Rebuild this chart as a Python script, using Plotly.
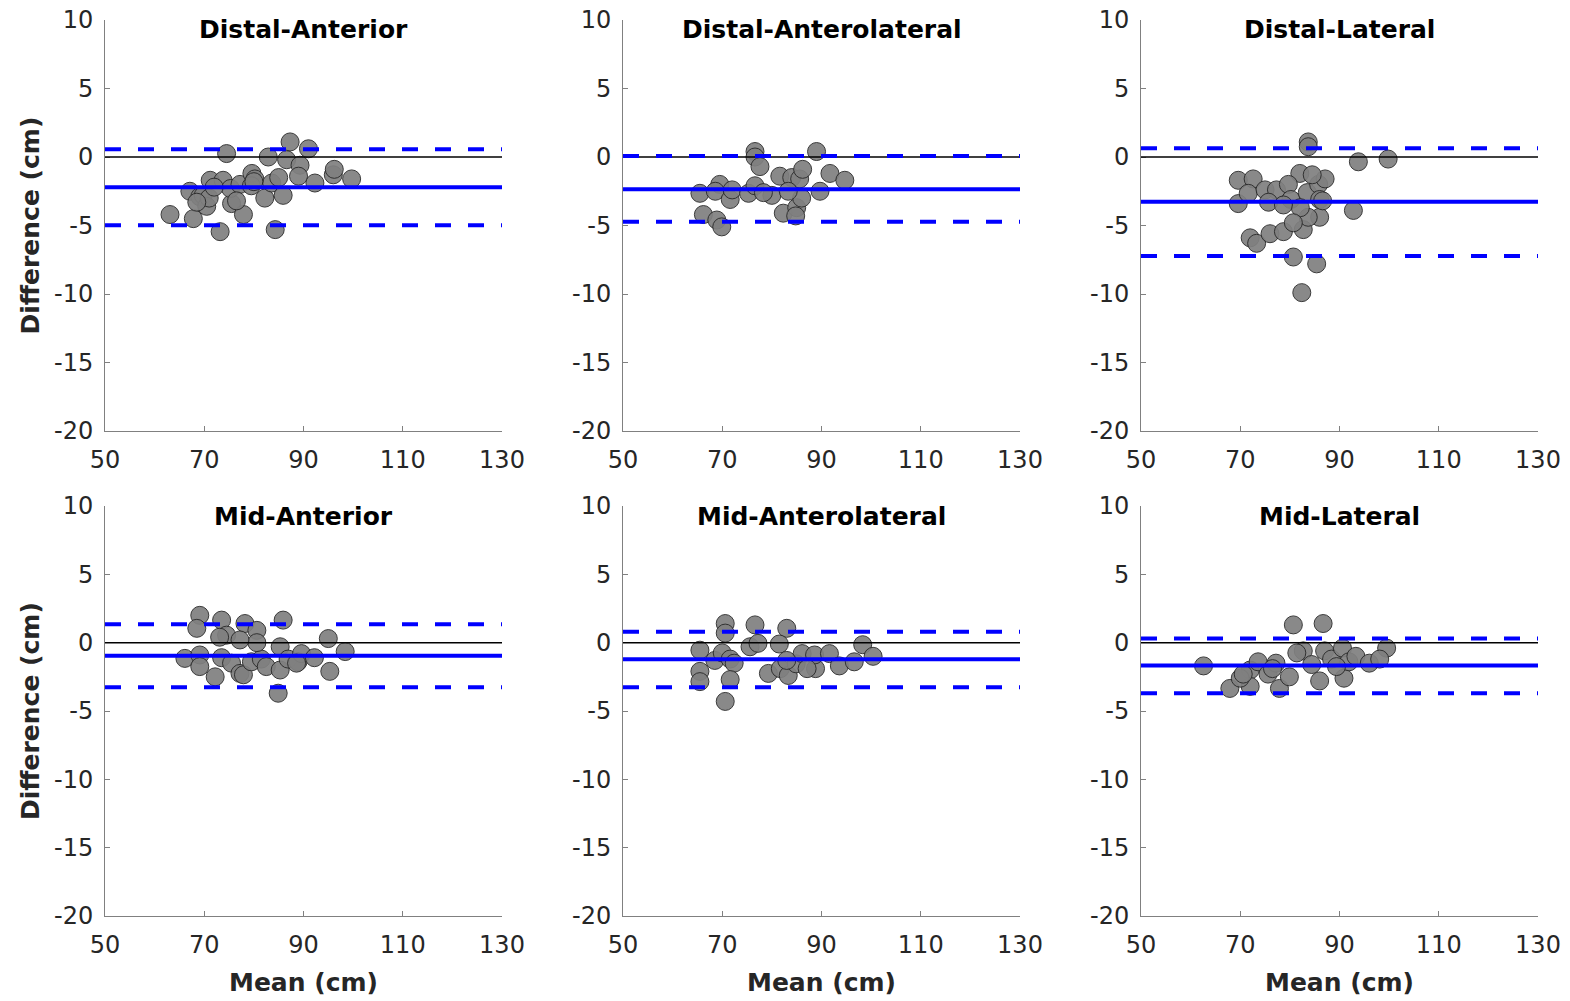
import plotly.graph_objects as go

W, H = 1570, 1001

titles = ["Distal-Anterior", "Distal-Anterolateral", "Distal-Lateral",
          "Mid-Anterior", "Mid-Anterolateral", "Mid-Lateral"]

x_da = [63.1, 67.8, 67.1, 69.1, 69.8, 71.2, 70.5, 71.0, 73.8, 73.2, 74.5, 75.5, 75.3, 77.2, 77.9, 79.6, 80.2, 79.5,
        82.2, 83.6, 82.9, 84.3, 85.9, 87.3, 86.6, 89.3, 89.0, 91.0, 92.3, 96.0, 96.2, 99.7, 85.0, 68.5, 72.0, 76.5, 80.0]
y_da = [-4.2, -4.5, -2.5, -2.9, -2.8, -1.7, -3.6, -3.0, -1.7, -5.45, 0.25, -3.4, -2.3, -2.0, -4.2, -1.2, -1.6, -2.1,
        -3.0, -1.9, 0.0, -5.3, -2.8, 1.1, -0.2, -0.6, -1.4, 0.6, -1.9, -1.3, -0.9, -1.6, -1.5, -3.3, -2.2, -3.2, -1.8]

x_dal = [65.5, 66.2, 68.9, 69.9, 69.5, 68.6, 71.6, 72.0, 75.3, 76.6, 76.6, 77.6, 76.6, 80.0, 81.6, 82.3, 85.0, 84.8,
         84.0, 85.6, 86.2, 89.0, 89.7, 91.7, 94.7, 86.0, 78.3, 83.3]
y_dal = [-2.65, -4.2, -4.6, -5.1, -2.0, -2.5, -3.1, -2.4, -2.65, 0.4, 0.0, -0.7, -2.1, -2.8, -1.4, -4.1, -3.7, -4.3,
         -1.5, -1.6, -0.9, 0.4, -2.5, -1.2, -1.7, -3.0, -2.6, -2.5]

x_dl = [69.6, 72.6, 69.6, 71.6, 75.0, 72.0, 73.3, 76.0, 78.7, 82.7, 80.7, 85.4, 82.4, 83.7, 83.7, 93.8, 99.8, 92.8,
        82.0, 77.3, 79.7, 80.2, 83.5, 85.8, 87.1, 86.0, 86.0, 83.7, 82.1, 80.7, 75.7, 78.7, 84.5, 86.6]
y_dl = [-1.7, -1.6, -3.4, -2.65, -2.4, -5.9, -6.3, -5.6, -5.45, -5.3, -7.3, -7.8, -9.9, 1.1, 0.75, -0.35, -0.15, -3.9,
        -1.2, -2.4, -2.0, -3.1, -2.6, -2.0, -1.6, -3.1, -4.4, -4.4, -3.7, -4.8, -3.3, -3.5, -1.3, -3.2]

x_ma = [69.1, 68.5, 73.5, 78.2, 80.6, 85.9, 74.5, 66.1, 69.1, 69.1, 72.2, 73.5, 75.5, 77.2, 77.9, 79.5, 81.5, 82.5,
        85.3, 85.3, 84.9, 86.9, 88.9, 89.6, 92.2, 95.3, 95.0, 98.4, 80.6, 77.2, 73.1, 88.6]
y_ma = [2.0, 1.05, 1.65, 1.4, 0.9, 1.65, 0.55, -1.15, -0.9, -1.75, -2.5, -1.1, -1.5, -2.25, -2.35, -1.4, -1.2, -1.75,
        -0.3, -2.0, -3.7, -1.2, -1.4, -0.8, -1.1, -2.1, 0.3, -0.65, 0.0, 0.2, 0.4, -1.5]

x_mal = [70.6, 70.6, 76.6, 83.0, 65.5, 65.5, 65.5, 68.5, 70.0, 71.6, 72.4, 71.6, 70.6, 75.6, 77.2, 79.3, 81.5, 81.7,
         83.3, 84.9, 86.1, 88.8, 88.6, 91.6, 93.6, 96.6, 98.3, 100.4, 83.0, 87.1]
y_mal = [1.4, 0.7, 1.3, 1.05, -0.55, -2.1, -2.85, -1.3, -0.75, -1.2, -1.5, -2.7, -4.3, -0.3, -0.05, -2.25, -0.1, -1.9,
         -2.4, -1.55, -0.8, -1.9, -0.9, -0.8, -1.7, -1.4, -0.15, -1.0, -1.3, -1.9]

x_ml = [62.6, 67.9, 72.0, 72.0, 73.6, 75.6, 77.2, 77.9, 79.9, 80.7, 86.7, 82.7, 84.4, 86.0, 87.0, 88.4, 90.9, 90.6,
        91.9, 93.3, 96.0, 99.5, 70.0, 70.6, 81.4, 89.4, 98.1, 76.5]
y_ml = [-1.7, -3.35, -2.0, -3.2, -1.4, -2.3, -1.5, -3.35, -2.5, 1.3, 1.4, -0.6, -1.6, -2.8, -0.6, -1.2, -2.6, -0.4,
        -1.4, -1.0, -1.5, -0.4, -2.6, -2.3, -0.75, -1.75, -1.2, -1.9]

bias = [-2.21, -2.36, -3.26, -0.95, -1.21, -1.67]
loa_upper = [0.56, 0.07, 0.63, 1.35, 0.80, 0.30]
loa_lower = [-4.99, -4.72, -7.23, -3.27, -3.27, -3.70]

xs = [x_da, x_dal, x_dl, x_ma, x_mal, x_ml]
ys = [y_da, y_dal, y_dl, y_ma, y_mal, y_ml]

x_ticks = [50, 70, 90, 110, 130]
x_ticktext = ["50", "70", "90", "110", "130"]
y_ticks = [-20, -15, -10, -5, 0, 5, 10]
y_ticktext = ["-20", "-15", "-10", "-5", "0", "5", "10"]
x_range = [50, 130]
y_range = [-20, 10]

# pixel layout of plot areas
col_px = [(105, 502), (623, 1020), (1141, 1538)]
row_px = [(20, 431), (506, 916)]

FONT = "DejaVu Sans"
fig = go.Figure()
layout = dict(
    width=W, height=H, margin=dict(l=0, r=0, t=0, b=0, pad=0), autosize=False,
    template="none",
    plot_bgcolor="white", paper_bgcolor="white", showlegend=False,
    font=dict(family=FONT, color="#262626"),
)
shapes = []
annotations = []

for i in range(6):
    r, c = divmod(i, 3)
    n = i + 1
    xa = "x" if n == 1 else f"x{n}"
    ya = "y" if n == 1 else f"y{n}"
    xk = "xaxis" if n == 1 else f"xaxis{n}"
    yk = "yaxis" if n == 1 else f"yaxis{n}"
    x0p, x1p = col_px[c]
    y0p, y1p = row_px[r]
    layout[xk] = dict(
        domain=[x0p / W, x1p / W], anchor=ya, range=x_range,
        tickmode="array", tickvals=x_ticks, ticktext=x_ticktext, automargin=False,
        showgrid=False, zeroline=False, showline=True, linecolor="#808080", linewidth=1,
        ticks="inside", ticklen=5, tickcolor="#808080", ticklabelstandoff=7,
        tickfont=dict(family=FONT, size=24, color="#262626"),
    )
    layout[yk] = dict(
        domain=[1 - y1p / H, 1 - y0p / H], anchor=xa, range=y_range,
        tickmode="array", tickvals=y_ticks, ticktext=y_ticktext, automargin=False,
        showgrid=False, zeroline=False, showline=True, linecolor="#808080", linewidth=1,
        ticks="inside", ticklen=5, tickcolor="#808080", ticklabelstandoff=6,
        tickfont=dict(family=FONT, size=24, color="#262626"),
    )
    fig.add_trace(go.Scatter(
        x=xs[i], y=ys[i], mode="markers", xaxis=xa, yaxis=ya, cliponaxis=False,
        marker=dict(size=18, color="rgb(128,128,128)", opacity=0.92,
                    line=dict(color="#2a2a2a", width=1)),
    ))
    dref = f"{xa} domain"
    shapes.append(dict(type="line", xref=dref, yref=ya, x0=0, x1=1, y0=0, y1=0,
                       line=dict(color="black", width=1.5)))
    shapes.append(dict(type="line", xref=dref, yref=ya, x0=0, x1=1, y0=bias[i], y1=bias[i],
                       line=dict(color="rgb(0,0,255)", width=4)))
    for v in (loa_upper[i], loa_lower[i]):
        shapes.append(dict(type="line", xref=dref, yref=ya, x0=0, x1=1, y0=v, y1=v,
                           line=dict(color="rgb(0,0,255)", width=4, dash="16px,17px")))
    # panel title
    annotations.append(dict(
        text=f"<b>{titles[i]}</b>", x=(x0p + x1p) / 2 / W, y=1 - (y0p + 10) / H,
        xref="paper", yref="paper", xanchor="center", yanchor="middle", showarrow=False,
        font=dict(family=FONT, size=25, color="black"),
    ))
    if c == 0:
        annotations.append(dict(
            text="<b>Difference (cm)</b>", x=30 / W, y=1 - (y0p + y1p) / 2 / H,
            xref="paper", yref="paper", xanchor="center", yanchor="middle", showarrow=False,
            textangle=-90, font=dict(family=FONT, size=25, color="#262626"),
        ))
    if r == 1:
        annotations.append(dict(
            text="<b>Mean (cm)</b>", x=(x0p + x1p) / 2 / W, y=1 - 982 / H,
            xref="paper", yref="paper", xanchor="center", yanchor="middle", showarrow=False,
            font=dict(family=FONT, size=25, color="#262626"),
        ))

layout["shapes"] = shapes
layout["annotations"] = annotations
fig.update_layout(**layout)
fig.write_html("out.html")
